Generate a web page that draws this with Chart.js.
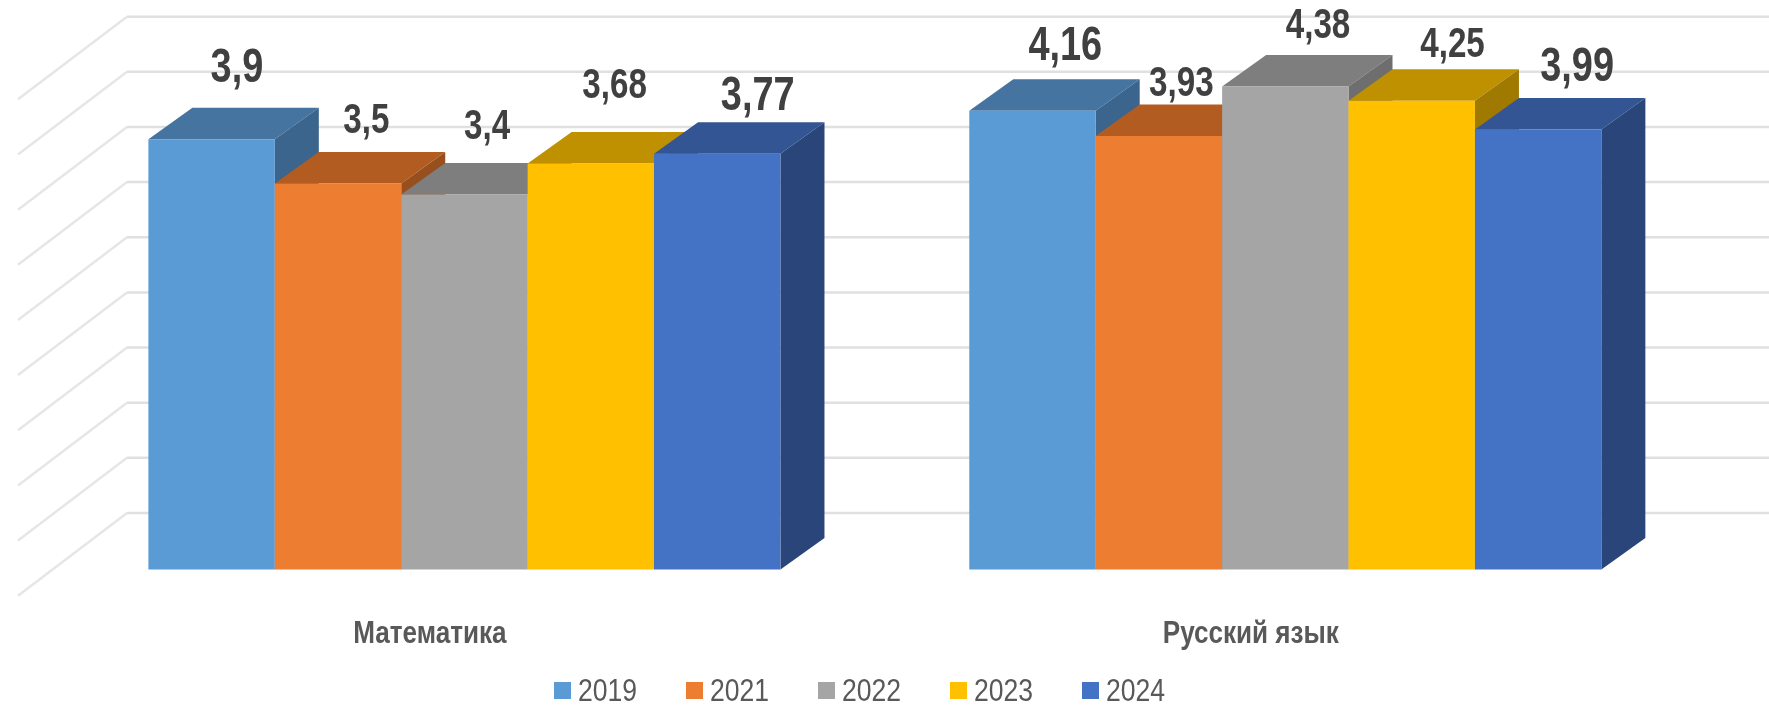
<!DOCTYPE html>
<html lang="ru">
<head>
<meta charset="utf-8">
<title>Средний балл</title>
<script src="https://cdn.jsdelivr.net/npm/chart.js@4/dist/chart.umd.min.js"></script>
<style>
    html, body { margin: 0; padding: 0; background: #fff; overflow: hidden; }
    #wrap { position: relative; width: 1769px; height: 705px; }
    #legend { position: absolute; left: 554px; top: 672px; display: flex; font: 32px/36px "Liberation Sans", sans-serif; color: #595959; }
    #legend div { display: flex; align-items: center; width: 132px; }
    #legend i { width: 17px; height: 17px; margin-right: 7px; }
    #legend span { display: inline-block; transform: scaleX(0.83); transform-origin: left center; }
</style>
</head>
<body>
<div id="wrap">
    <canvas id="chart" width="1769" height="705"></canvas>
    <div id="legend"></div>
</div>
<script>
// Данные
const categories = ['Математика', 'Русский язык'];
const years = ['2019', '2021', '2022', '2023', '2024'];
const values2019 = [3.9, 4.16];
const values2021 = [3.5, 3.93];
const values2022 = [3.4, 4.38];
const values2023 = [3.68, 4.25];
const values2024 = [3.77, 3.99];
const yTicksMax = 4.5;
const yStep = 0.5;

// Цвета: передняя, верхняя и боковая грань
const faceColors = ['#5B9BD5', '#ED7D31', '#A5A5A5', '#FFC000', '#4472C4'];
const topColors = ['#4674A0', '#B35C21', '#7E7E7E', '#BF9000', '#335593'];
const sideColors = ['#3B658C', '#97501D', '#6E6E6E', '#A07900', '#2A4579'];

// Глубина столбцов и стенки
const BAR_DX = 44, BAR_DY = 31.5;
const WALL_DX = 109, WALL_BACK_DY = 56.5, WALL_FRONT_DY = 26.2;
const WALL_LEFT = 127;

// Шрифт в оригинале узкий, поэтому текст сжимаем по горизонтали
const TEXT_SQUEEZE = 0.79;
const CATEGORY_SQUEEZE = 0.815;
const CATEGORY_DX = -34.5;
const CATEGORY_Y = 643;

// Подписи сдвинуты вручную, как в оригинале: [dx, dy центра цифр, размер]
const labelStyle = [
    [[25.3, -74.3, 48], [32.8, -67.6, 48]],
    [[28.3, -65.5, 42], [22.5, -55.3, 42]],
    [[22.6, -70.3, 42], [32.7, -63.1, 42]],
    [[23.8, -80.9, 42], [40.8, -59, 42]],
    [[40.5, -60.4, 48], [39, -65.2, 48]]
];

const pseudo3d = {
    id: 'pseudo3d',
    beforeDatasetsDraw(chart) {
        const {ctx, scales: {y}} = chart;

        // Стенки с сеткой
        ctx.save();
        ctx.lineWidth = 2.5;
        y.ticks.forEach(t => {
            const py = y.getPixelForValue(t.value);
            ctx.strokeStyle = '#E6E6E6';
            ctx.beginPath();
            ctx.moveTo(WALL_LEFT - WALL_DX, py + WALL_FRONT_DY);
            ctx.lineTo(WALL_LEFT, py - WALL_BACK_DY);
            ctx.stroke();
            ctx.strokeStyle = '#E0E0E0';
            ctx.beginPath();
            ctx.moveTo(WALL_LEFT, py - WALL_BACK_DY);
            ctx.lineTo(chart.width, py - WALL_BACK_DY);
            ctx.stroke();
        });
        ctx.restore();

        // Столбцы слева направо, чтобы следующий перекрывал бок предыдущего
        categories.forEach((c, i) => {
            chart.data.datasets.forEach((ds, d) => {
                const bar = chart.getDatasetMeta(d).data[i];
                const left = bar.x - bar.width / 2;
                const right = bar.x + bar.width / 2;

                ctx.fillStyle = topColors[d];
                ctx.beginPath();
                ctx.moveTo(left, bar.y);
                ctx.lineTo(left + BAR_DX, bar.y - BAR_DY);
                ctx.lineTo(right + BAR_DX, bar.y - BAR_DY);
                ctx.lineTo(right, bar.y);
                ctx.closePath();
                ctx.fill();

                ctx.fillStyle = sideColors[d];
                ctx.beginPath();
                ctx.moveTo(right, bar.y);
                ctx.lineTo(right + BAR_DX, bar.y - BAR_DY);
                ctx.lineTo(right + BAR_DX, bar.base - BAR_DY);
                ctx.lineTo(right, bar.base);
                ctx.closePath();
                ctx.fill();

                bar.draw(ctx, chart.chartArea);
            });
        });
        return false;
    },
    afterDraw(chart) {
        const {ctx, scales: {x}} = chart;
        ctx.save();
        ctx.textAlign = 'center';
        ctx.textBaseline = 'alphabetic';

        // Значения над столбцами
        ctx.fillStyle = '#404040';
        chart.data.datasets.forEach((ds, d) => {
            chart.getDatasetMeta(d).data.forEach((bar, i) => {
                const [dx, dy, size] = labelStyle[d][i];
                ctx.save();
                ctx.font = 'bold ' + size + 'px "Liberation Sans", sans-serif';
                ctx.translate(bar.x + dx, bar.y + dy + size * 0.358);
                ctx.scale(TEXT_SQUEEZE, 1);
                ctx.fillText(String(ds.data[i]).replace('.', ','), 0, 0);
                ctx.restore();
            });
        });

        // Названия категорий
        ctx.fillStyle = '#595959';
        ctx.font = 'bold 32px "Liberation Sans", sans-serif';
        categories.forEach((c, i) => {
            ctx.save();
            ctx.translate(x.getPixelForValue(i) + CATEGORY_DX, CATEGORY_Y);
            ctx.scale(CATEGORY_SQUEEZE, 1);
            ctx.fillText(c, 0, 0);
            ctx.restore();
        });
        ctx.restore();
    }
};

const allValues = [values2019, values2021, values2022, values2023, values2024];

const chart = new Chart(document.getElementById('chart'), {
    type: 'bar',
    data: {
        labels: categories,
        datasets: years.map((yr, d) => ({
            label: yr,
            data: allValues[d],
            backgroundColor: faceColors[d],
            categoryPercentage: 0.77,
            barPercentage: 1
        }))
    },
    options: {
        responsive: false,
        animation: false,
        layout: { padding: { left: 54, right: 73.25, top: 73.15, bottom: 0 } },
        plugins: { legend: { display: false }, tooltip: { enabled: false } },
        scales: {
            x: {
                grid: { display: false },
                border: { display: false },
                afterFit(scale) { scale.height = 135.5; },
                ticks: { display: false }
            },
            y: {
                display: false,
                min: 0,
                max: yTicksMax,
                ticks: { stepSize: yStep }
            }
        }
    },
    plugins: [pseudo3d]
});

// Легенда
const legend = document.getElementById('legend');
chart.data.datasets.forEach(ds => {
    const item = document.createElement('div');
    item.innerHTML = `<i style="background:${ds.backgroundColor}"></i><span>${ds.label}</span>`;
    legend.appendChild(item);
});
</script>
</body>
</html>
